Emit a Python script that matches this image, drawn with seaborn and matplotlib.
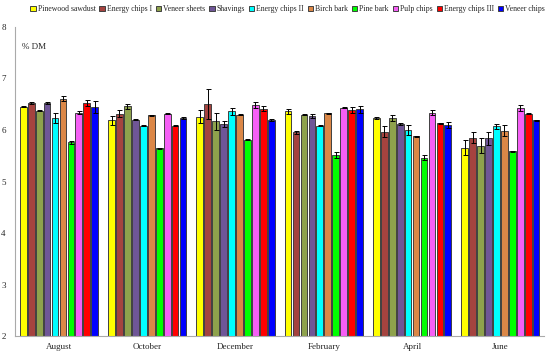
import matplotlib
matplotlib.use('Agg')
import matplotlib.pyplot as plt
import seaborn as sns
import pandas as pd
import numpy as np

months = ['August', 'October', 'December', 'February', 'April', 'June']
materials = ['Pinewood sawdust', 'Energy chips I', 'Veneer sheets', 'Shavings', 'Energy chips II',
             'Birch bark', 'Pine bark', 'Pulp chips', 'Energy chips III', 'Veneer chips']
colors = ['#FFFF00', '#A5433F', '#8EA24C', '#6F5697', '#00FFFF',
          '#DB8747', '#00FF00', '#F55FF5', '#FF0000', '#0000FF']

# % DM per material, one value per month
pinewood_sawdust = [6.45, 6.19, 6.26, 6.36, 6.23, 5.66]
energy_chips_1 = [6.52, 6.32, 6.51, 5.96, 5.97, 5.85]
veneer_sheets = [6.37, 6.46, 6.17, 6.30, 6.23, 5.70]
shavings = [6.52, 6.20, 6.12, 6.27, 6.11, 5.84]
energy_chips_2 = [6.23, 6.08, 6.36, 6.08, 6.00, 6.07]
birch_bark = [6.61, 6.29, 6.30, 6.33, 5.88, 5.99]
pine_bark = [5.76, 5.65, 5.81, 5.52, 5.46, 5.59]
pulp_chips = [6.34, 6.32, 6.48, 6.43, 6.34, 6.42]
energy_chips_3 = [6.52, 6.08, 6.41, 6.39, 6.13, 6.32]
veneer_chips = [6.45, 6.23, 6.19, 6.40, 6.09, 6.19]

# error bar half widths
pinewood_sawdust_err = [0.01, 0.09, 0.12, 0.04, 0.02, 0.15]
energy_chips_1_err = [0.02, 0.06, 0.29, 0.03, 0.10, 0.11]
veneer_sheets_err = [0.01, 0.05, 0.17, 0.01, 0.06, 0.15]
shavings_err = [0.02, 0.01, 0.06, 0.04, 0.02, 0.13]
energy_chips_2_err = [0.10, 0.01, 0.06, 0.01, 0.10, 0.05]
birch_bark_err = [0.05, 0.01, 0.01, 0.01, 0.01, 0.10]
pine_bark_err = [0.03, 0.01, 0.01, 0.06, 0.05, 0.01]
pulp_chips_err = [0.03, 0.01, 0.06, 0.01, 0.05, 0.06]
energy_chips_3_err = [0.06, 0.01, 0.05, 0.06, 0.01, 0.01]
veneer_chips_err = [0.11, 0.02, 0.02, 0.06, 0.06, 0.01]

values = [pinewood_sawdust, energy_chips_1, veneer_sheets, shavings, energy_chips_2,
          birch_bark, pine_bark, pulp_chips, energy_chips_3, veneer_chips]
errors = [pinewood_sawdust_err, energy_chips_1_err, veneer_sheets_err, shavings_err, energy_chips_2_err,
          birch_bark_err, pine_bark_err, pulp_chips_err, energy_chips_3_err, veneer_chips_err]

df = pd.DataFrame(
    [(m, mat, v) for mat, vals in zip(materials, values) for m, v in zip(months, vals)],
    columns=['month', 'material', 'dm'],
)

sns.set_style('white')
plt.rcParams['font.family'] = ['Liberation Serif', 'DejaVu Serif']

fig, ax = plt.subplots(figsize=(5.5, 3.54), dpi=100)
fig.subplots_adjust(left=0.027, right=0.99, bottom=0.05, top=0.924)

sns.barplot(
    data=df, x='month', y='dm', hue='material', order=months, hue_order=materials,
    palette=colors, saturation=1, width=0.9, gap=0.15, edgecolor='#404040', linewidth=0.7,
    errorbar=None, ax=ax,
)

# error bars at the bar centres
for container, errs in zip(ax.containers, errors):
    xs = [p.get_x() + p.get_width() / 2 for p in container.patches]
    ys = [p.get_height() for p in container.patches]
    ax.errorbar(xs, ys, yerr=errs, fmt='none', ecolor='black', elinewidth=0.7, capsize=1.8, capthick=0.7)

ax.set_ylim(2, 8)
ax.set_xlim(-0.5, 5.5)
ax.set_yticks(range(2, 9))
ax.set_xlabel('')
ax.set_ylabel('')
ax.tick_params(axis='both', labelsize=6.5, length=3, width=0.6, color='#999999', direction='out')
ax.tick_params(axis='x', length=0, pad=5)
ax.set_xticks(np.arange(-0.5, 5.6, 1), minor=True)
ax.tick_params(axis='x', which='minor', length=3, width=0.6, color='#999999')
for s in ['top', 'right']:
    ax.spines[s].set_visible(False)
for s in ['left', 'bottom']:
    ax.spines[s].set_color('#AAAAAA')
    ax.spines[s].set_linewidth(0.8)

ax.text(0.013, 0.93, '% DM', transform=ax.transAxes, fontsize=6.5)

ax.legend(
    loc='lower center', bbox_to_anchor=(0.515, 1.035), ncol=10, fontsize=5.6,
    frameon=False, handlelength=0.7, handleheight=0.7, handletextpad=0.25,
    columnspacing=0.5, borderaxespad=0,
)

plt.savefig('out.png', dpi=100)
